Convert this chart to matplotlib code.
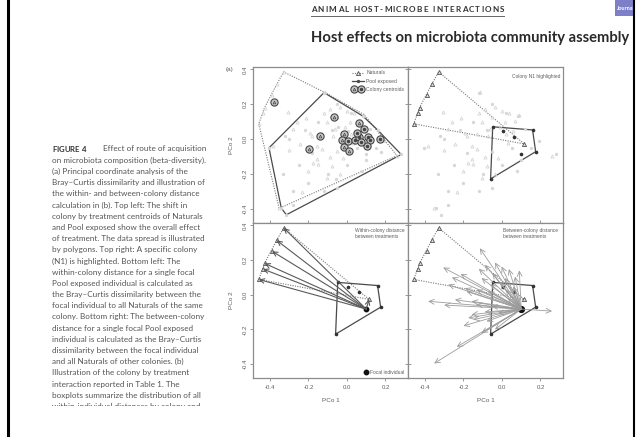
import matplotlib
matplotlib.use("Agg")
import matplotlib.pyplot as plt
import numpy as np
from matplotlib.lines import Line2D
from matplotlib.patches import Polygon, Rectangle
from matplotlib.transforms import Affine2D, Bbox
from matplotlib.legend_handler import HandlerTuple

# PCoA scores (Bray-Curtis), colony N1 highlighted
n1_nat_x = [-0.329, -0.365, -0.389, -0.428, -0.436, -0.458, 0.115]
n1_nat_y = [0.386, 0.314, 0.251, 0.181, 0.148, 0.088, -0.027]
n1_pool_x = [-0.048, 0.159, 0.175, -0.059, 0.004, 0.060, 0.100]
n1_pool_y = [0.071, 0.053, -0.072, -0.228, 0.047, 0.015, -0.083]
focal_idx = 6

# Naturals of the other colonies
other_nat_x = [-0.305, -0.383, -0.352, -0.235, -0.175, -0.149, -0.279, -0.192, -0.244,
               -0.157, -0.088, -0.036, -0.002, 0.036, -0.106, -0.132, -0.071, 0.016,
               0.068, 0.260, -0.157, -0.132, -0.054, -0.106, -0.036, 0.090, 0.059,
               -0.080, -0.184, -0.115, -0.215, -0.050, 0.020, -0.020, -0.200, -0.060,
               -0.010, -0.300, -0.120, 0.030, -0.260, -0.090]
other_nat_y = [0.157, -0.038, -0.397, -0.301, -0.134, -0.144, 0.058, 0.038, -0.029,
               -0.038, 0.173, 0.186, 0.163, 0.148, 0.096, 0.029, 0.019, 0.096,
               0.105, -0.095, -0.115, -0.058, -0.067, -0.221, -0.201, 0.140, 0.048,
               -0.154, 0.019, 0.268, 0.120, 0.125, 0.030, -0.110, -0.180, 0.060,
               0.070, -0.060, 0.150, -0.020, 0.100, -0.100]

# Pool exposed of the other colonies
other_pool_x = [-0.119, 0.083, 0.282, -0.315, -0.341, -0.405, -0.250, -0.200, -0.280,
                -0.100, 0.000, 0.100, 0.150, -0.050, 0.020, -0.150, -0.300, -0.220,
                0.190, -0.120, -0.050, -0.330, 0.050, -0.080, 0.120, -0.180, -0.280,
                0.080, -0.320]
other_pool_y = [0.267, 0.132, -0.088, -0.434, -0.395, -0.050, -0.150, -0.250, -0.300,
                -0.200, -0.150, -0.120, -0.050, 0.200, 0.150, 0.100, 0.000, 0.050,
                -0.010, -0.300, -0.280, -0.200, -0.050, 0.050, 0.060, -0.080, -0.380,
                -0.180, 0.020]

# colony by treatment centroids
cent_nat_x = [-0.381, -0.068, -0.142, -0.197, -0.017, -0.024, -0.016, 0.010, 0.061]
cent_nat_y = [0.213, 0.127, 0.017, -0.059, 0.027, -0.002, -0.046, -0.069, 0.090]
cent_pool_x = [0.088, 0.005, 0.040, 0.062, 0.109, 0.121, 0.170, 0.104, 0.050, 0.075]
cent_pool_y = [0.059, -0.010, -0.006, 0.013, 0.013, -0.006, 0.002, -0.040, 0.038, -0.015]

xticks = [-0.4, -0.2, 0.0, 0.2]
xtick_labels = ["-0.4", "-0.2", "0.0", "0.2"]
yticks = [-0.4, -0.2, 0.0, 0.2, 0.4]
ytick_labels = ["-0.4", "-0.2", "0.0", "0.2", "0.4"]

caption_lines = [
    "on microbiota composition (beta-diversity).",
    "(a) Principal coordinate analysis of the",
    "Bray\u2013Curtis dissimilarity and illustration of",
    "the within- and between-colony distance",
    "calculation in (b). Top left: The shift in",
    "colony by treatment centroids of Naturals",
    "and Pool exposed show the overall effect",
    "of treatment. The data spread is illustrated",
    "by polygons. Top right: A specific colony",
    "(N1) is highlighted. Bottom left: The",
    "within-colony distance for a single focal",
    "Pool exposed individual is calculated as",
    "the Bray\u2013Curtis dissimilarity between the",
    "focal individual to all Naturals of the same",
    "colony. Bottom right: The between-colony",
    "distance for a single focal Pool exposed",
    "individual is calculated as the Bray\u2013Curtis",
    "dissimilarity between the focal individual",
    "and all Naturals of other colonies. (b)",
    "Illustration of the colony by treatment",
    "interaction reported in Table 1. The",
    "boxplots summarize the distribution of all",
    "within-individual distances by colony and",
]

W, H = 637, 437
XLIM = (-0.488, 0.317)
YLIM = (-0.481, 0.414)
FRAME = "#8c8c8c"
TXT = "#5e5e5e"
BG = "#d6d6d6"
PANEL_FONT = "Liberation Sans"

fig = plt.figure(figsize=(W / 100, H / 100), dpi=100)
# pixel coordinates measured from the top-left corner
pix = Affine2D().scale(1, -1).translate(0, H)
renderer = fig.canvas.get_renderer()


def hull(xs, ys):
    pts = sorted(set(zip(xs, ys)))

    def cross(o, a, b):
        return (a[0] - o[0]) * (b[1] - o[1]) - (a[1] - o[1]) * (b[0] - o[0])

    lower, upper = [], []
    for p in pts:
        while len(lower) >= 2 and cross(lower[-2], lower[-1], p) <= 0:
            lower.pop()
        lower.append(p)
    for p in reversed(pts):
        while len(upper) >= 2 and cross(upper[-2], upper[-1], p) <= 0:
            upper.pop()
        upper.append(p)
    return np.array(lower[:-1] + upper[:-1])


def make_panel(x0, y0, x1, y1):
    ax = fig.add_axes([x0 / W, 1 - y1 / H, (x1 - x0) / W, (y1 - y0) / H])
    ax.set_xlim(*XLIM)
    ax.set_ylim(*YLIM)
    for sp in ax.spines.values():
        sp.set_color(FRAME)
        sp.set_linewidth(0.9)
    ax.set_xticks(xticks)
    ax.set_yticks(yticks)
    ax.set_xticklabels(xtick_labels, fontfamily=PANEL_FONT)
    ax.set_yticklabels(ytick_labels, rotation=90, va="center", fontfamily=PANEL_FONT)
    ax.tick_params(colors=FRAME, labelcolor=TXT, labelsize=4.3, length=2.5, width=0.6)
    ax.tick_params(axis="x", pad=2.5)
    ax.tick_params(axis="y", pad=1.5)
    return ax


def inner_x(ax):
    ax.tick_params(axis="x", direction="inout", length=4.5, labelbottom=False)


def inner_y(ax):
    ax.tick_params(axis="y", direction="inout", length=4.5, labelleft=False)


def background(ax):
    ax.plot(other_pool_x + n1_pool_x, other_pool_y + n1_pool_y, "o", ms=2.0,
            mfc=BG, mec=BG, mew=0.4)
    ax.plot(other_nat_x + n1_nat_x, other_nat_y + n1_nat_y, "^", ms=2.2,
            mfc="none", mec=BG, mew=0.6)


def n1_polygons(ax):
    ax.add_patch(Polygon(hull(n1_nat_x, n1_nat_y), closed=True, fill=False,
                         ls=(0, (1, 1.2)), ec="#7a7a7a", lw=0.8))
    ax.add_patch(Polygon(hull(n1_pool_x, n1_pool_y), closed=True, fill=False,
                         ls="-", ec="#4a4a4a", lw=0.9))
    ax.plot(n1_nat_x, n1_nat_y, "^", ms=3, mfc="#dddddd", mec="#555555", mew=0.6)
    ax.plot(n1_pool_x, n1_pool_y, "o", ms=1.6, color="#333333")


def axis_labels(ax, xlabel=True):
    ax.set_ylabel("PCo 2", fontsize=4.6, color=TXT, fontfamily=PANEL_FONT)
    ax.yaxis.set_label_coords(-0.125, 0.5)
    if xlabel:
        ax.set_xlabel("PCo 1", fontsize=4.6, color=TXT, fontfamily=PANEL_FONT)
        ax.xaxis.set_label_coords(0.5, -0.13)


# ---- top left: hulls and centroids ----
ax_tl = make_panel(253, 67, 408, 223)
inner_x(ax_tl)
axis_labels(ax_tl, xlabel=False)
background(ax_tl)
all_nat = hull(other_nat_x + n1_nat_x, other_nat_y + n1_nat_y)
all_pool = hull(other_pool_x + n1_pool_x, other_pool_y + n1_pool_y)
ax_tl.add_patch(Polygon(all_nat, closed=True, fill=False, ls=(0, (1, 1.2)),
                        ec="#7a7a7a", lw=0.8))
ax_tl.add_patch(Polygon(all_pool, closed=True, fill=False, ls="-",
                        ec="#4a4a4a", lw=0.9))
ring = dict(ls="none", marker="o", ms=5.2, mfc="#c8c8c8", mec="#444444", mew=0.8)
ax_tl.plot(cent_nat_x, cent_nat_y, **ring)
ax_tl.plot(cent_nat_x, cent_nat_y, "^", ms=2, mfc="none", mec="#444444", mew=0.5)
ax_tl.plot(cent_pool_x, cent_pool_y, **ring)
ax_tl.plot(cent_pool_x, cent_pool_y, "o", ms=1.5, color="#444444")

h_nat = Line2D([], [], ls=(0, (1, 1.2)), color="#7a7a7a", lw=0.8, marker="^",
               ms=3, mfc="#dddddd", mec="#555555", mew=0.6)
h_pool = Line2D([], [], ls="-", color="#4a4a4a", lw=0.9, marker="o", ms=1.4)
c1 = (Line2D([], [], **ring), Line2D([], [], ls="none", marker="^", ms=2,
                                     mfc="none", mec="#444444", mew=0.5))
c2 = (Line2D([], [], **ring), Line2D([], [], ls="none", marker="o", ms=1.5,
                                     color="#444444"))
cent_handle = (c1, c2)
leg = ax_tl.legend([h_nat, h_pool, cent_handle],
                   ["Naturals", "Pool exposed", "Colony centroids"],
                   handler_map={cent_handle: HandlerTuple(ndivide=None, pad=0.1)},
                   loc="upper right", frameon=False,
                   handlelength=2.4, handletextpad=0.6, labelspacing=0.6,
                   borderaxespad=0.3, prop={"family": PANEL_FONT, "size": 3.6})
for t in leg.get_texts():
    t.set_color(TXT)

# ---- top right: colony N1 ----
ax_tr = make_panel(408, 67, 563, 223)
inner_x(ax_tr)
inner_y(ax_tr)
background(ax_tr)
n1_polygons(ax_tr)
ax_tr.text(0.98, 0.955, "Colony N1 highlighted", transform=ax_tr.transAxes,
           ha="right", va="top", fontsize=3.5, color=TXT, fontfamily=PANEL_FONT)

fx, fy = n1_pool_x[focal_idx], n1_pool_y[focal_idx]

# ---- bottom left: within-colony distance ----
ax_bl = make_panel(253, 223, 408, 378)
axis_labels(ax_bl)
n1_polygons(ax_bl)
for tx, ty in zip(n1_nat_x, n1_nat_y):
    ax_bl.annotate("", xy=(tx, ty), xytext=(fx, fy),
                   arrowprops=dict(arrowstyle="->,head_length=0.4,head_width=0.2",
                                   color="#5a5a5a", lw=0.8, shrinkA=0, shrinkB=0,
                                   mutation_scale=8))
ax_bl.plot([fx], [fy], "o", ms=3.2, color="#111111")
ax_bl.text(0.658, 0.968, "Within-colony distance\nbetween treatments",
           transform=ax_bl.transAxes, ha="left", va="top", fontsize=3.5,
           color=TXT, fontfamily=PANEL_FONT, linespacing=1.3)
leg2 = ax_bl.legend([Line2D([], [], ls="none", marker="o", ms=3.2, color="#111111")],
                    ["Focal individual"], loc="lower right", frameon=False,
                    handlelength=0.8, handletextpad=0.4, borderaxespad=0.3,
                    prop={"family": PANEL_FONT, "size": 3.5})
for t in leg2.get_texts():
    t.set_color(TXT)

# ---- bottom right: between-colony distance ----
ax_br = make_panel(408, 223, 563, 378)
inner_y(ax_br)
ax_br.set_xlabel("PCo 1", fontsize=4.6, color=TXT, fontfamily=PANEL_FONT)
ax_br.xaxis.set_label_coords(0.5, -0.13)
for tx, ty in zip(other_nat_x, other_nat_y):
    ax_br.annotate("", xy=(tx, ty), xytext=(fx, fy),
                   arrowprops=dict(arrowstyle="->,head_length=0.45,head_width=0.22",
                                   color="#9c9c9c", lw=0.6, shrinkA=0, shrinkB=0,
                                   mutation_scale=8))
n1_polygons(ax_br)
ax_br.plot([fx], [fy], "o", ms=4.2, color="#111111")
ax_br.text(0.613, 0.968, "Between-colony distance\nbetween treatments",
           transform=ax_br.transAxes, ha="left", va="top", fontsize=3.5,
           color=TXT, fontfamily=PANEL_FONT, linespacing=1.3)

fig.text(230, 70, "(a)", transform=pix, ha="center", va="center", fontsize=4.6,
         color=TXT, fontfamily=PANEL_FONT)


# ---- page furniture ----
def fit_width(t, width):
    w = t.get_window_extent(renderer).width
    t.set_fontsize(t.get_fontsize() * width / w)


def tracked(x0, x1, y, s, size, **kw):
    glyphs, widths = [], []
    for ch in s:
        t = fig.text(0, y, ch, transform=pix, fontsize=size, va="center", **kw)
        w = size * 0.3 * 100 / 72 if ch == " " else t.get_window_extent(renderer).width
        glyphs.append(t)
        widths.append(w)
    gap = (x1 - x0 - sum(widths)) / (len(s) - 1)
    x = x0
    for t, w in zip(glyphs, widths):
        t.set_x(x)
        x += w + gap


tracked(311, 504, 10, "ANIMAL HOST-MICROBE INTERACTIONS", 5.9,
        fontfamily="Lato", fontweight="bold", color="#333333")
fig.add_artist(Line2D([311, 504], [15.8, 15.8], transform=pix, color="#666666", lw=0.7))

title = fig.text(311, 38, "Host effects on microbiota community assembly", transform=pix,
                 fontsize=10, fontfamily="Lato", fontweight="bold", color="#2a2a2a",
                 va="center")
fit_width(title, 317)

# journal tab in the corner
tab = Rectangle((615, 0), 18, 15.5, transform=pix, color="#7d80c8", lw=0)
fig.add_artist(tab)
jt = fig.text(617, 8, "Journal", transform=pix, fontsize=4, color="white",
              fontfamily="Lato", fontweight="bold", va="center")
jt.set_clip_path(tab)

# page edges
fig.add_artist(Line2D([7.5, 7.5], [0, H], transform=pix, color="black", lw=2.2))
fig.add_artist(Line2D([634.3, 634.3], [0, H], transform=pix, color="black", lw=1.5))

# caption
CAP_X, CAP_Y, CAP_DY = 52, 149, 11.2
tracked(52, 86, CAP_Y, "FIGURE 4", 5.6, fontfamily="Lato", fontweight="bold",
        color="#333333")
probe = fig.text(CAP_X, 0, caption_lines[0], transform=pix, fontsize=5.2,
                 fontfamily="Lato")
fit_width(probe, 153)
cap_size = probe.get_fontsize()
probe.remove()
fig.text(103, CAP_Y, "Effect of route of acquisition", transform=pix,
         fontsize=cap_size, fontfamily="Lato", color="#555555", va="center")
for i, line in enumerate(caption_lines):
    t = fig.text(CAP_X, CAP_Y + (i + 1) * CAP_DY, line, transform=pix,
                 fontsize=cap_size, fontfamily="Lato", color="#555555", va="center")
    if i == len(caption_lines) - 1:
        # last line runs off the bottom of the page crop
        t.set_clip_box(Bbox.from_extents(0, H - 405.5, W, H))

fig.savefig("out.png", dpi=100)
